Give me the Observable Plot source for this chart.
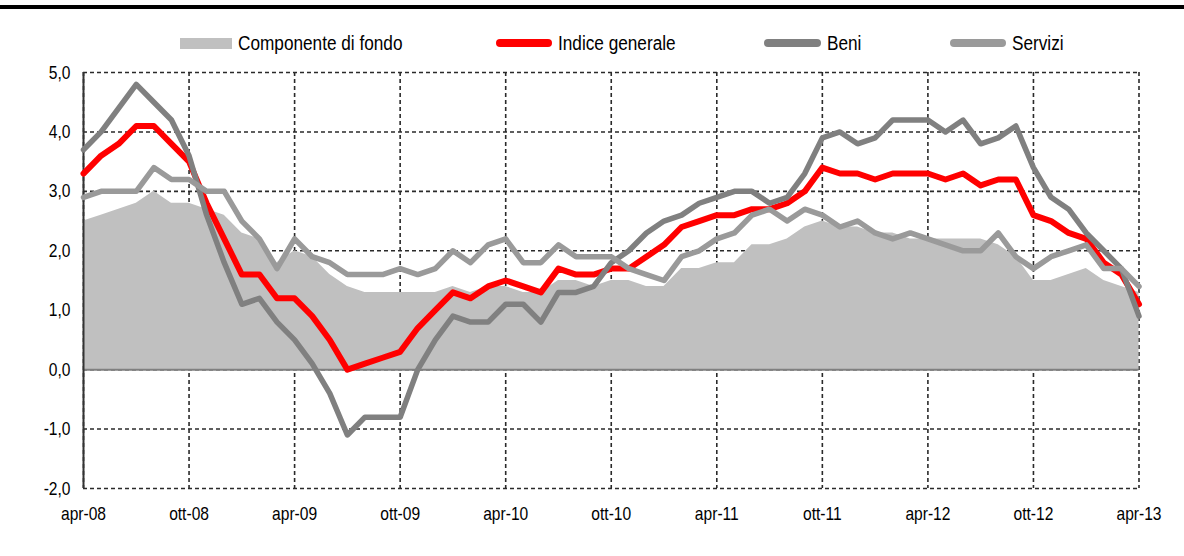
<!DOCTYPE html>
<html>
<head>
<meta charset="utf-8">
<script src="https://cdn.jsdelivr.net/npm/d3@7"></script>
<script src="https://cdn.jsdelivr.net/npm/@observablehq/plot@0.6"></script>
<style>
  html, body { margin: 0; padding: 0; background: #fff; }
  #wrap { position: relative; width: 1184px; height: 556px; overflow: hidden; }
  #rule { position: absolute; left: 0; top: 5px; width: 1184px; height: 4px; background: #000; }
  #legend { position: absolute; top: 33px; left: 0; width: 1184px; height: 20px;
            font-family: "Liberation Sans", Arial, sans-serif;
            font-size: 20px; color: #000; }
  .item { position: absolute; top: 0; height: 20px; display: flex; align-items: center; white-space: nowrap; }
  .sw { display: inline-block; margin-right: 6px; flex: none; }
  .txt { display: inline-block; transform: scaleX(0.86); transform-origin: left center; }
</style>
</head>
<body>
<div id="wrap">
  <div id="rule"></div>
  <div id="legend"></div>
</div>
<script>
const FONT = '"Liberation Sans", Arial, sans-serif';
const NARROW = 0.82;

const months = [
  "apr-08","mag-08","giu-08","lug-08","ago-08","set-08","ott-08","nov-08","dic-08",
  "gen-09","feb-09","mar-09","apr-09","mag-09","giu-09","lug-09","ago-09","set-09","ott-09","nov-09","dic-09",
  "gen-10","feb-10","mar-10","apr-10","mag-10","giu-10","lug-10","ago-10","set-10","ott-10","nov-10","dic-10",
  "gen-11","feb-11","mar-11","apr-11","mag-11","giu-11","lug-11","ago-11","set-11","ott-11","nov-11","dic-11",
  "gen-12","feb-12","mar-12","apr-12","mag-12","giu-12","lug-12","ago-12","set-12","ott-12","nov-12","dic-12",
  "gen-13","feb-13","mar-13","apr-13"
];

const xTicks = ["apr-08","ott-08","apr-09","ott-09","apr-10","ott-10","apr-11","ott-11","apr-12","ott-12","apr-13"];
const yTicks = [-2, -1, 0, 1, 2, 3, 4, 5];

const componenteDiFondo = [
  2.5,2.6,2.7,2.8,3.0,2.8,2.8,2.7,2.6,2.3,2.2,1.8,2.0,1.9,1.6,
  1.4,1.3,1.3,1.3,1.3,1.3,1.4,1.3,1.4,1.4,1.3,1.3,1.5,1.5,1.4,
  1.5,1.5,1.4,1.4,1.7,1.7,1.8,1.8,2.1,2.1,2.2,2.4,2.5,2.4,2.4,
  2.3,2.3,2.2,2.2,2.2,2.2,2.2,2.1,1.9,1.5,1.5,1.6,1.7,1.5,1.4,1.3
];
const indiceGenerale = [
  3.3,3.6,3.8,4.1,4.1,3.8,3.5,2.8,2.2,1.6,1.6,1.2,1.2,0.9,0.5,
  0.0,0.1,0.2,0.3,0.7,1.0,1.3,1.2,1.4,1.5,1.4,1.3,1.7,1.6,1.6,
  1.7,1.7,1.9,2.1,2.4,2.5,2.6,2.6,2.7,2.7,2.8,3.0,3.4,3.3,3.3,
  3.2,3.3,3.3,3.3,3.2,3.3,3.1,3.2,3.2,2.6,2.5,2.3,2.2,1.8,1.6,1.1
];
const beni = [
  3.7,4.0,4.4,4.8,4.5,4.2,3.6,2.6,1.8,1.1,1.2,0.8,0.5,0.1,-0.4,
  -1.1,-0.8,-0.8,-0.8,0.0,0.5,0.9,0.8,0.8,1.1,1.1,0.8,1.3,1.3,1.4,
  1.8,2.0,2.3,2.5,2.6,2.8,2.9,3.0,3.0,2.8,2.9,3.3,3.9,4.0,3.8,
  3.9,4.2,4.2,4.2,4.0,4.2,3.8,3.9,4.1,3.4,2.9,2.7,2.3,2.0,1.7,0.9
];
const servizi = [
  2.9,3.0,3.0,3.0,3.4,3.2,3.2,3.0,3.0,2.5,2.2,1.7,2.2,1.9,1.8,
  1.6,1.6,1.6,1.7,1.6,1.7,2.0,1.8,2.1,2.2,1.8,1.8,2.1,1.9,1.9,
  1.9,1.7,1.6,1.5,1.9,2.0,2.2,2.3,2.6,2.7,2.5,2.7,2.6,2.4,2.5,
  2.3,2.2,2.3,2.2,2.1,2.0,2.0,2.3,1.9,1.7,1.9,2.0,2.1,1.7,1.7,1.4
];

const seriesNames = ["Componente di fondo", "Indice generale", "Beni", "Servizi"];
const seriesColors = ["#c0c0c0", "#ff0000", "#808080", "#9a9a9a"];

const data = months.map((m, i) => ({
  m, fondo: componenteDiFondo[i], indice: indiceGenerale[i], beni: beni[i], servizi: servizi[i]
}));

const fmt = d => d.toFixed(1).replace(".", ",");
const gridStyle = {stroke: "#2a2a2a", strokeOpacity: 1, strokeWidth: 1.6, strokeDasharray: "4,3"};

const chart = Plot.plot({
  width: 1184,
  height: 556,
  marginTop: 72,
  marginBottom: 68,
  marginLeft: 83,
  marginRight: 45.5,
  style: {fontFamily: FONT, fontSize: "19px", color: "#000", background: "transparent"},
  x: {type: "point", domain: months, padding: 0, label: null},
  y: {domain: [-2, 5], label: null},
  marks: [
    Plot.gridY(yTicks, gridStyle),
    Plot.gridX(xTicks, gridStyle),
    Plot.areaY(data, {x: "m", y: "fondo", fill: seriesColors[0]}),
    Plot.ruleY([0], {stroke: "#808080", strokeWidth: 2}),
    Plot.ruleX([months[0]], {stroke: "#333", strokeWidth: 2}),
    Plot.line(data, {x: "m", y: "indice", stroke: seriesColors[1], strokeWidth: 6, strokeLinejoin: "round", strokeLinecap: "round"}),
    Plot.line(data, {x: "m", y: "beni", stroke: seriesColors[2], strokeWidth: 5.5, strokeLinejoin: "round", strokeLinecap: "round"}),
    Plot.line(data, {x: "m", y: "servizi", stroke: seriesColors[3], strokeWidth: 5.5, strokeLinejoin: "round", strokeLinecap: "round"}),
    Plot.axisY(yTicks, {tickSize: 0, tickPadding: 13, tickFormat: fmt, fontSize: 19, label: null}),
    Plot.axisX(xTicks, {tickSize: 0, tickPadding: 18, fontSize: 19, label: null})
  ]
});
chart.style.position = "absolute";
chart.style.left = "0px";
chart.style.top = "0px";
document.getElementById("wrap").appendChild(chart);

// emulate a narrow typeface by compressing glyphs horizontally
chart.querySelectorAll("text").forEach(t => {
  const L = t.getComputedTextLength();
  if (L > 0) {
    t.setAttribute("textLength", (L * NARROW).toFixed(2));
    t.setAttribute("lengthAdjust", "spacingAndGlyphs");
  }
});

// legend
const legendPos = [
  {sw: 180, w: 52, kind: "rect"},
  {sw: 496, w: 56, kind: "line"},
  {sw: 764, w: 57, kind: "line"},
  {sw: 950, w: 56, kind: "line"}
];
const legend = document.getElementById("legend");
seriesNames.forEach((name, i) => {
  const it = document.createElement("div");
  it.className = "item";
  it.style.left = legendPos[i].sw + "px";
  const sw = document.createElement("span");
  sw.className = "sw";
  sw.style.width = legendPos[i].w + "px";
  sw.style.background = seriesColors[i];
  if (legendPos[i].kind === "rect") { sw.style.height = "11px"; }
  else { sw.style.height = "8px"; sw.style.borderRadius = "4px"; }
  it.appendChild(sw);
  const t = document.createElement("span");
  t.className = "txt";
  t.textContent = name;
  it.appendChild(t);
  legend.appendChild(it);
});
</script>
</body>
</html>
